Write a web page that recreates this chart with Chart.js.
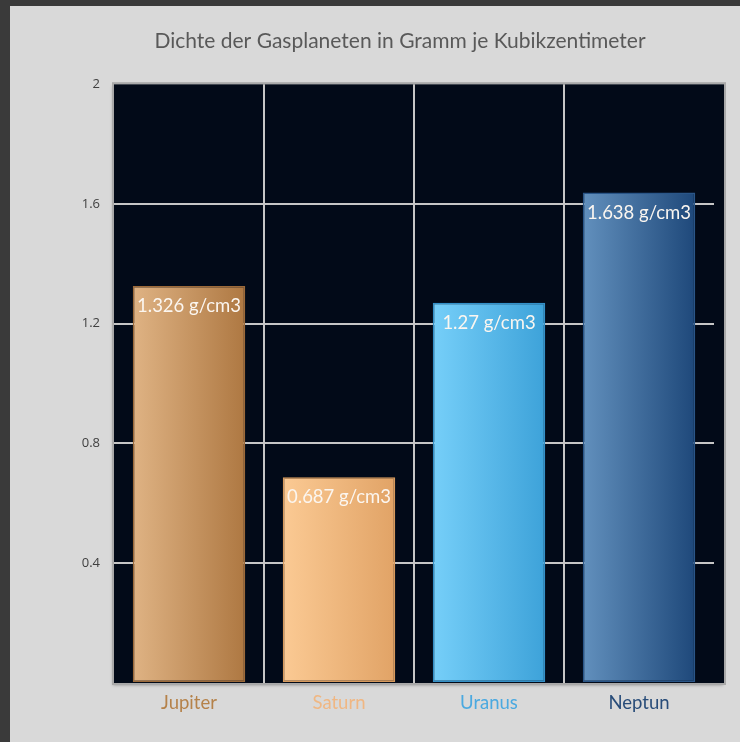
<!DOCTYPE html>
<html>
<head>
<meta charset="utf-8">
<script src="https://cdn.jsdelivr.net/npm/chart.js@4/dist/chart.umd.min.js"></script>
<style>
  html, body { margin: 0; padding: 0; }
  body {
    width: 740px;
    height: 742px;
    background: #d9d9d9;
    position: relative;
    overflow: hidden;
  }
  #topbar { position: absolute; left: 0; top: 0; width: 740px; height: 6px; background: #3a3a3a; }
  #leftbar { position: absolute; left: 0; top: 0; width: 10px; height: 742px; background: #3a3a3a; }
  #chart { position: absolute; left: 60px; top: 6px; width: 680px; height: 736px; }
</style>
</head>
<body>
<div id="topbar"></div>
<div id="leftbar"></div>
<div id="chart"><canvas id="density"></canvas></div>
<script>
const planets = ["Jupiter", "Saturn", "Uranus", "Neptun"];
const densities = [1.326, 0.687, 1.27, 1.638];
const unit = "g/cm3";
const yTicks = [0.4, 0.8, 1.2, 1.6, 2];
const labelColors = ["#b5824a", "#f0b783", "#4ba9e0", "#284c79"];
const barLeftColors = ["#dfb384", "#fbca94", "#76cff9", "#6290bd"];
const barRightColors = ["#ae7842", "#e1a366", "#3da2d9", "#1e487a"];
const barEdgeColors = ["#9c6a3a", "#d89a5c", "#3390c8", "#2a5688"];

const plotBg = "#020a18";
const gridColor = "#c6c6c6";
const noColor = "rgba(0,0,0,0)";

function barGradient(context) {
  const chart = context.chart;
  const xScale = chart.scales.x;
  const i = context.dataIndex;
  if (!chart.chartArea || !xScale || i === undefined) return barLeftColors[i || 0];
  const center = xScale.getPixelForValue(i);
  const half = (xScale.width / planets.length) * 0.75 / 2;
  const g = chart.ctx.createLinearGradient(center - half, 0, center + half, 0);
  g.addColorStop(0, barLeftColors[i]);
  g.addColorStop(1, barRightColors[i]);
  return g;
}

// dark plot background, a bit wider than the last category, like the original
const plotFrame = {
  id: "plotFrame",
  beforeDraw(chart) {
    const { ctx, chartArea: a } = chart;
    ctx.save();
    ctx.shadowColor = "rgba(0,0,0,0.35)";
    ctx.shadowBlur = 3;
    ctx.shadowOffsetX = -1;
    ctx.shadowOffsetY = 2;
    ctx.fillStyle = plotBg;
    ctx.fillRect(a.left, a.top, a.right - a.left + 10, a.bottom - a.top);
    ctx.restore();
  },
  afterDatasetsDraw(chart) {
    const { ctx, chartArea: a } = chart;
    ctx.save();
    ctx.strokeStyle = "#a9a9a9";
    ctx.lineWidth = 2;
    ctx.strokeRect(a.left - 1, a.top - 1, a.right - a.left + 12, a.bottom - a.top + 2);
    ctx.restore();
  }
};

// value labels inside the top of each bar
const valueLabels = {
  id: "valueLabels",
  afterDatasetsDraw(chart) {
    const { ctx } = chart;
    const meta = chart.getDatasetMeta(0);
    ctx.save();
    ctx.font = "18.5px Lato, 'Open Sans', sans-serif";
    ctx.fillStyle = "#fbf6f0";
    ctx.textAlign = "center";
    ctx.textBaseline = "middle";
    meta.data.forEach((bar, i) => {
      ctx.fillText(densities[i] + " " + unit, bar.x, bar.y + 20);
    });
    ctx.restore();
  }
};

const ctx = document.getElementById("density").getContext("2d");

new Chart(ctx, {
  type: "bar",
  data: {
    labels: planets,
    datasets: [
      {
        label: "Dichte",
        data: densities,
        backgroundColor: barGradient,
        borderColor: barEdgeColors,
        borderWidth: 1.5,
        borderSkipped: false,
        barPercentage: 0.75,
        categoryPercentage: 1,
      },
    ],
  },
  options: {
    responsive: true,
    maintainAspectRatio: false,
    animation: false,
    layout: { padding: 0 },
    plugins: {
      legend: { display: false },
      tooltip: { enabled: false },
      title: {
        display: true,
        text: "Dichte der Gasplaneten in Gramm je Kubikzentimeter",
        color: "#595959",
        font: { family: "Lato, 'Open Sans', sans-serif", size: 21, weight: "normal" },
        padding: { top: 23, bottom: 30 },
      },
    },
    scales: {
      x: {
        offset: true,
        grid: {
          offset: true,
          drawTicks: false,
          lineWidth: 2,
          color: (c) => (c.index === undefined || c.index === 0 ? noColor : gridColor),
        },
        border: { display: false },
        ticks: {
          padding: 9,
          color: (c) => labelColors[c.index],
          font: { family: "Lato, 'Open Sans', sans-serif", size: 18.5 },
        },
        afterFit: (scale) => { scale.height = 59; },
      },
      y: {
        min: 0,
        max: 2,
        afterBuildTicks: (scale) => {
          scale.ticks = [0].concat(yTicks).map((v) => ({ value: v }));
        },
        grid: {
          drawTicks: false,
          lineWidth: 2,
          color: (c) => (c.tick && c.tick.value > 0 && c.tick.value < 2 ? gridColor : noColor),
        },
        border: { display: false },
        ticks: {
          padding: 14,
          color: "#404040",
          font: { family: "'Open Sans', sans-serif", size: 13 },
          callback: (v) => (v === 0 ? "" : v),
        },
        afterFit: (scale) => { scale.width = 54; },
      },
      // empty right-hand axis, only reserves room so the title stays centred on the canvas
      yRight: {
        position: "right",
        min: 0,
        max: 2,
        grid: { display: false },
        border: { display: false },
        ticks: { display: false },
        afterFit: (scale) => { scale.width = 26; },
      },
    },
  },
  plugins: [plotFrame, valueLabels],
});
</script>
</body>
</html>
